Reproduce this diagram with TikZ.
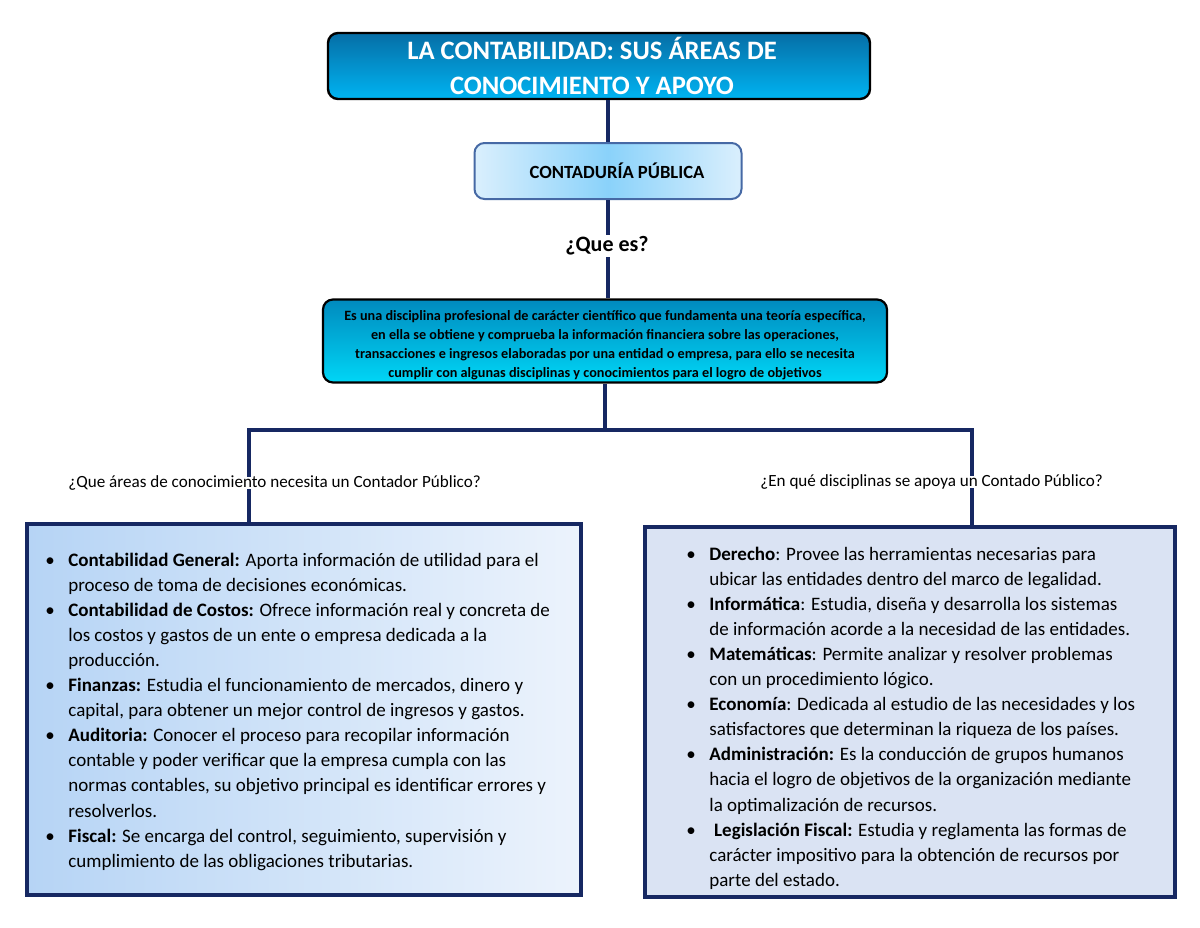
\documentclass[tikz,border=0pt]{standalone}
\usepackage{fontspec}
\setmainfont{Carlito}
\definecolor{navy}{RGB}{22,40,98}
\definecolor{titletop}{RGB}{6,110,166}
\definecolor{titlebot}{RGB}{0,180,242}
\definecolor{deftop}{RGB}{0,138,190}
\definecolor{defbot}{RGB}{0,214,246}
\definecolor{contaedge}{RGB}{218,239,253}
\definecolor{contamid}{RGB}{138,210,250}
\definecolor{contaborder}{RGB}{70,105,165}
\definecolor{leftL}{RGB}{182,212,245}
\definecolor{leftR}{RGB}{236,243,252}
\definecolor{rightfill}{RGB}{218,227,243}
\tikzset{
  titlebox/.style={draw=black, line width=1.2pt, rounded corners=5pt,
    top color=titletop, bottom color=titlebot, minimum width=271pt, minimum height=33pt,
    align=center, text=white, font=\fontsize{13.3}{17.3}\selectfont\bfseries, inner sep=0pt},
  contabox/.style={draw=contaborder, line width=1pt, rounded corners=5pt,
    left color=contaedge, right color=contaedge, middle color=contamid,
    minimum width=133.5pt, minimum height=28pt, font=\fontsize{9.3}{11}\selectfont\bfseries, inner sep=0pt},
  defbox/.style={draw=black, line width=1.1pt, rounded corners=5pt,
    top color=deftop, bottom color=defbot, minimum width=282pt, minimum height=41.5pt,
    align=center, font=\fontsize{7.1}{9.45}\selectfont\bfseries, inner sep=0pt},
  listbox/.style={draw=navy, line width=2pt, inner sep=0pt},
  conn/.style={draw=navy, line width=2pt, line join=miter},
  qlabel/.style={fill=white, inner sep=0pt, text height=1.1ex, text depth=0.1ex,
    font=\fontsize{8.55}{10}\selectfont},
  listtext/.style={inner sep=0pt, anchor=base west, font=\fontsize{9.5}{12.55}\selectfont},
}
\newcommand{\bul}{\makebox[11.5pt][l]{\textbullet}}
\begin{document}
\begin{tikzpicture}[x=0.5pt,y=-0.5pt]
\useasboundingbox[fill=white] (0,0) rectangle (1200,927);

% boxes
\node[titlebox] (title) at (599,66) {LA CONTABILIDAD: SUS ÁREAS DE\hspace*{7pt}\\CONOCIMIENTO Y APOYO\hspace*{7pt}};
\node[contabox] (conta) at (608,171) {\hspace*{9pt}CONTADURÍA PÚBLICA};
\node[defbox] (def) at (605,341) {\rule{0pt}{9.5pt}Es una disciplina profesional de carácter científico que fundamenta una teoría específica,\\
en ella se obtiene y comprueba la información financiera sobre las operaciones,\\
transacciones e ingresos elaboradas por una entidad o empresa, para ello se necesita\\
cumplir con algunas disciplinas y conocimientos para el logro de objetivos};
\node[listbox, left color=leftL, right color=leftR, minimum width=277pt, minimum height=185.5pt] (leftbox) at (304,709.5) {};
\node[listbox, fill=rightfill, minimum width=265pt, minimum height=185pt] (rightbox) at (910,712) {};

% connectors
\coordinate (jl) at (249,430);
\coordinate (jr) at (972,430);
\draw[conn] (conta.north |- title.south) -- (conta.north);
\draw[conn] (conta.south) -- (conta.south |- def.north);
\draw[conn] (def.south) -- (def.south |- jl);
\draw[conn] (jl |- leftbox.north) -- (jl) -- (jr) -- (jr |- rightbox.north);

% labels
\node[fill=white, inner sep=1pt, font=\fontsize{11}{13}\selectfont\bfseries] (quees) at (607,246) {¿Que es?};
\node[qlabel, anchor=west] (qleft) at (68,483) {¿Que áreas de conocimiento necesita un Contador Público?};
\node[qlabel, anchor=west] (qright) at (760,482) {¿En qué disciplinas se apoya un Contado Público?};

% list texts
\node[listtext] (leftlist) at (45,566) {\begin{tabular}[t]{@{}l@{}l@{}}
\bul & \textbf{Contabilidad General:} Aporta información de utilidad para el\\
 & proceso de toma de decisiones económicas.\\
\bul & \textbf{Contabilidad de Costos:} Ofrece información real y concreta de\\
 & los costos y gastos de un ente o empresa dedicada a la\\
 & producción.\\
\bul & \textbf{Finanzas:} Estudia el funcionamiento de mercados, dinero y\\
 & capital, para obtener un mejor control de ingresos y gastos.\\
\bul & \textbf{Auditoria:} Conocer el proceso para recopilar información\\
 & contable y poder verificar que la empresa cumpla con las\\
 & normas contables, su objetivo principal es identificar errores y\\
 & resolverlos.\\
\bul & \textbf{Fiscal:} Se encarga del control, seguimiento, supervisión y\\
 & cumplimiento de las obligaciones tributarias.
\end{tabular}};
\node[listtext] (rightlist) at (686,560) {\begin{tabular}[t]{@{}l@{}l@{}}
\bul & \textbf{Derecho}: Provee las herramientas necesarias para\\
 & ubicar las entidades dentro del marco de legalidad.\\
\bul & \textbf{Informática}: Estudia, diseña y desarrolla los sistemas\\
 & de información acorde a la necesidad de las entidades.\\
\bul & \textbf{Matemáticas}: Permite analizar y resolver problemas\\
 & con un procedimiento lógico.\\
\bul & \textbf{Economía}: Dedicada al estudio de las necesidades y los\\
 & satisfactores que determinan la riqueza de los países.\\
\bul & \textbf{Administración:} Es la conducción de grupos humanos\\
 & hacia el logro de objetivos de la organización mediante\\
 & la optimalización de recursos.\\
\bul & \textbf{\hspace*{0.25em}Legislación Fiscal:} Estudia y reglamenta las formas de\\
 & carácter impositivo para la obtención de recursos por\\
 & parte del estado.
\end{tabular}};
\end{tikzpicture}
\end{document}
